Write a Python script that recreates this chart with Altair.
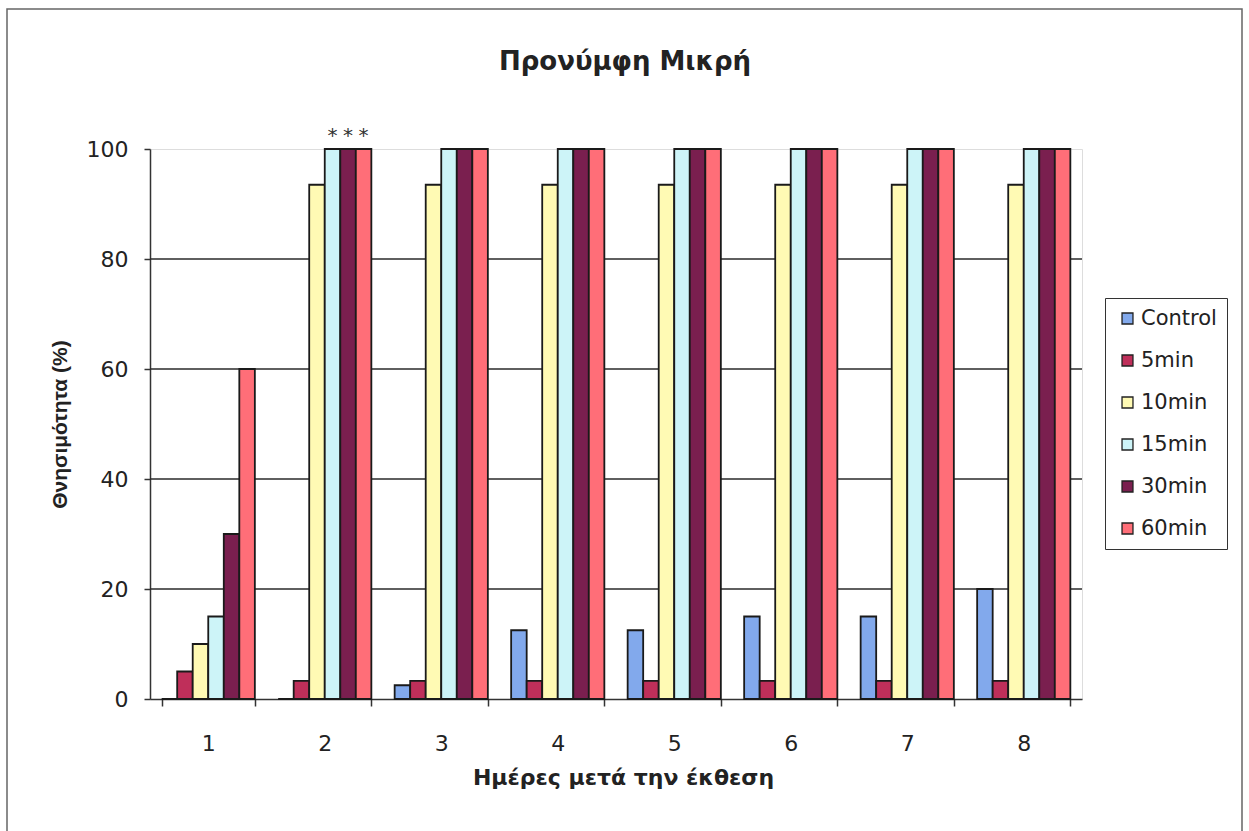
import altair as alt
import pandas as pd

# Mortality (%) per day after exposure, one list per exposure time
days = [1, 2, 3, 4, 5, 6, 7, 8]
series = ["Control", "5min", "10min", "15min", "30min", "60min"]
control = [0, 0, 2.5, 12.5, 12.5, 15, 15, 20]
min5 = [5, 3.3, 3.3, 3.3, 3.3, 3.3, 3.3, 3.3]
min10 = [10, 93.5, 93.5, 93.5, 93.5, 93.5, 93.5, 93.5]
min15 = [15, 100, 100, 100, 100, 100, 100, 100]
min30 = [30, 100, 100, 100, 100, 100, 100, 100]
min60 = [60, 100, 100, 100, 100, 100, 100, 100]
colors = ["#82A9EC", "#BF2F5A", "#FFFAB4", "#CDF4F8", "#7A1F4F", "#FF6E78"]

# Significance marks above day 2
star_day = 2
star_series = ["15min", "30min", "60min"]

grid_values = [20, 40, 60, 80]
chart_title = "Προνύμφη Μικρή"

rows = []
for name, vals in zip(series, [control, min5, min10, min15, min30, min60]):
    for d, v in zip(days, vals):
        rows.append({"day": str(d), "series": name, "value": v})
df = pd.DataFrame(rows)
stars = pd.DataFrame({"day": [str(star_day)] * len(star_series),
                      "series": star_series,
                      "value": [df[(df.day == str(star_day)) & (df.series == s)].value.iloc[0]
                                for s in star_series],
                      "label": ["*"] * len(star_series)})
grid = pd.DataFrame({"value": grid_values})

FONT = "DejaVu Sans"
VFONT = "Liberation Sans"
INK = "#222"
W, H = 932, 550
day_order = [str(d) for d in days]

x_enc = alt.X("day:N", sort=day_order,
              scale=alt.Scale(paddingInner=0.2, paddingOuter=0.1),
              axis=alt.Axis(title="Ημέρες μετά την έκθεση", labelAngle=0,
                            tickBand="extent", tickSize=7, labelPadding=27,
                            labelFontSize=22, labelFont=FONT, labelColor=INK,
                            titleFont=FONT, titleFontSize=22, titleFontWeight="bold",
                            titleColor=INK, titleX=473, titleY=78,
                            titleBaseline="middle", titleAlign="center",
                            domainColor="#333", domainWidth=1.5,
                            tickColor="#333", tickWidth=1.5, grid=False))
xoff = alt.XOffset("series:N", sort=series,
                   scale=alt.Scale(paddingInner=0, paddingOuter=0))
y_scale = alt.Scale(domain=[0, 100], nice=False)

bars = alt.Chart(df).mark_bar(stroke="#1a1a1a", strokeWidth=1.8).encode(
    x=x_enc,
    xOffset=xoff,
    y=alt.Y("value:Q", scale=y_scale,
            axis=alt.Axis(title="Θνησιμότητα (%)", values=[0, 20, 40, 60, 80, 100],
                          tickSize=6, labelPadding=16, labelFontSize=22,
                          labelFont=FONT, labelColor=INK,
                          titleFont=VFONT, titleFontSize=21, titleFontWeight="bold",
                          titleColor=INK, titleX=-90, titleY=275, titleAngle=270,
                          titleBaseline="middle", titleAlign="center",
                          domainColor="#333", domainWidth=1.5,
                          tickColor="#333", tickWidth=1.5, grid=False)),
    fill=alt.Fill("series:N", sort=series,
                  scale=alt.Scale(domain=series, range=colors),
                  legend=alt.Legend(title=None, orient="none", legendX=955, legendY=149,
                                    symbolType="square", symbolSize=120, symbolOffset=2,
                                    symbolStrokeColor="#222", symbolStrokeWidth=1.3,
                                    labelFont=FONT, labelFontSize=21, labelColor=INK,
                                    rowPadding=20, labelOffset=3, padding=10,
                                    strokeColor="#333", fillColor="white")),
)

gridlines = alt.Chart(grid).mark_rule(color="#2a2a2a", strokeWidth=1.4).encode(
    y=alt.Y("value:Q", scale=y_scale))

star_text = alt.Chart(stars).mark_text(
    font=FONT, fontSize=20, color="#333", dy=-13, baseline="middle").encode(
    x=alt.X("day:N", sort=day_order),
    xOffset=alt.XOffset("series:N", sort=series),
    y=alt.Y("value:Q", scale=y_scale),
    text="label:N")

# Outer chart border and main title, placed around the plot area
frame = alt.Chart(alt.Data(values=[{}])).mark_rect(
    fill=None, stroke="#666", strokeWidth=1.5).encode(
    x=alt.value(-143), x2=alt.value(1092), y=alt.value(-140), y2=alt.value(720))

title_text = alt.Chart(alt.Data(values=[{"t": chart_title}])).mark_text(
    font=FONT, fontSize=26, fontWeight="bold", color=INK,
    align="center", baseline="middle").encode(
    x=alt.value(475), y=alt.value(-87), text="t:N")

chart = alt.layer(frame, gridlines, bars, star_text, title_text).properties(
    width=W, height=H,
    autosize=alt.AutoSizeParams(type="none"),
    padding={"left": 150, "top": 149, "right": 1249 - 150 - W, "bottom": 831 - 149 - H},
).configure_view(fill="#EFEEEF", stroke="#A8A8B0", strokeWidth=1.5
).configure(background="white")

chart.save("out.html", embed_options={"renderer": "svg", "actions": False})
